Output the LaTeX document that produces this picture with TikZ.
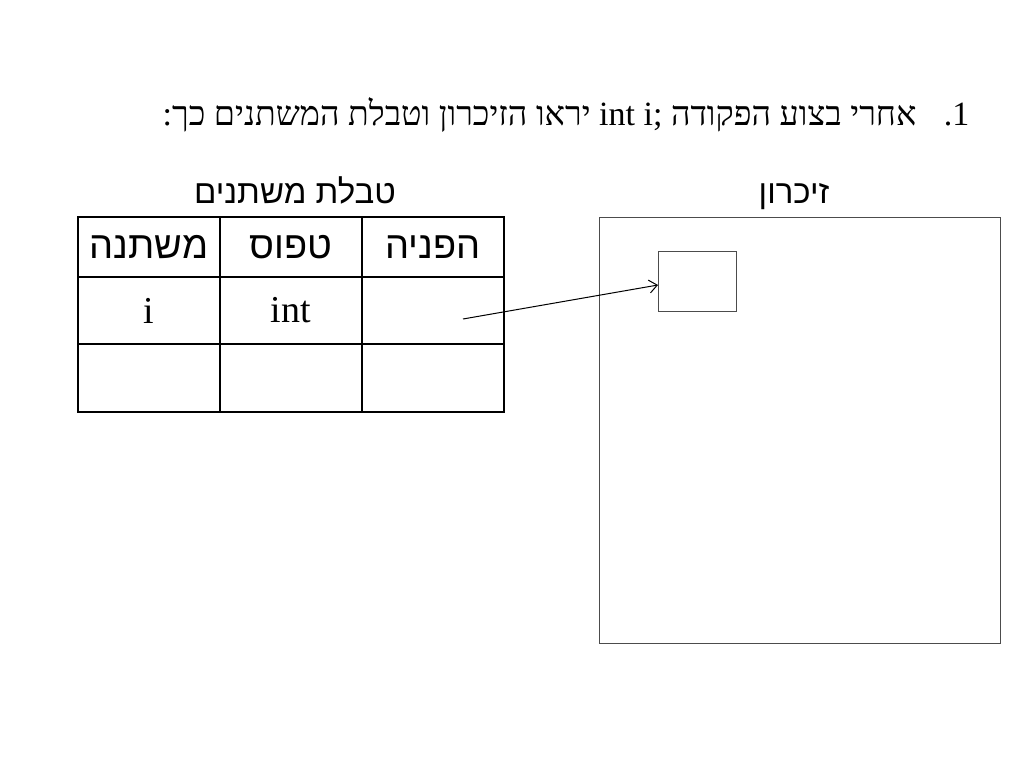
\documentclass[tikz,border=0pt]{standalone}
\usepackage{fontspec}
\setmainfont{Liberation Serif}
\newfontfamily\hebserif[Script=Hebrew]{Liberation Serif}
\newfontfamily\hebsans[Script=Hebrew]{Liberation Sans}
\TeXXeTstate=1
\usepackage{tikz}
\usetikzlibrary{
  positioning,
  arrows.meta
}
\tikzset{cell/.style={
  draw, line width=1.2pt,
  minimum width=142pt,
  inner sep=0pt, outer sep=0pt,
  anchor=north west,
  font=\fontsize{38}{44}\selectfont
}}
\tikzset{mem/.style={
  draw=black!70, line width=1pt,
  inner sep=0pt, outer sep=0pt,
  anchor=north west
}}
\tikzset{heading/.style={anchor=base,font=\fontsize{33}{40}\selectfont}}
\providecommand{\hebtxt}[1]{{\hebsans\beginR #1\endR}}

\begin{document}
\begin{tikzpicture}[x=1pt,y=-1pt,>={Straight Barb[length=8pt,width=13pt]}]
    \fill [white] (0,0) rectangle (1024,768);
    \useasboundingbox (0,0) rectangle (1024,768);
    \node (num) [anchor=base east,font=\fontsize{34}{40}\selectfont] at (973,125) {\beginR 1\kern0pt.\endR};
    \node (title) [anchor=base east,font=\fontsize{34}{40}\selectfont] at (920,125) {\hebserif\beginR אחרי בצוע הפקודה \beginL int i;\endL{} יראו הזיכרון וטבלת המשתנים כך:\endR};
    \node (tabletitle) [heading] at (295,203) {\hebtxt{טבלת משתנים}};
    \node (memtitle) [heading] at (794,203) {\hebtxt{זיכרון}};
    \node (hvar) [cell,minimum height=60pt] at (78,217) {\hebtxt{משתנה}};
    \node (htype) [cell,minimum height=60pt,right=0pt of hvar] {\hebtxt{טפוס}};
    \node (href) [cell,minimum height=60pt,right=0pt of htype] {\hebtxt{הפניה}};
    \node (var1) [cell,minimum height=67pt,below=0pt of hvar] {i};
    \node (type1) [cell,minimum height=67pt,below=0pt of htype] {int};
    \node (ref1) [cell,minimum height=67pt,below=0pt of href] {};
    \node (var2) [cell,minimum height=68pt,below=0pt of var1] {};
    \node (type2) [cell,minimum height=68pt,below=0pt of type1] {};
    \node (ref2) [cell,minimum height=68pt,below=0pt of ref1] {};
    \node (memory) [mem,minimum width=401pt,minimum height=426pt] at (599,217) {};
    \node (cell) [mem,minimum width=78pt,minimum height=60pt] at (658,251) {};
    \coordinate (ptr) at (463,319);
    \draw [line width=1pt,->] (ptr) -- ([yshift=-4pt]cell.west);
\end{tikzpicture}
\end{document}
